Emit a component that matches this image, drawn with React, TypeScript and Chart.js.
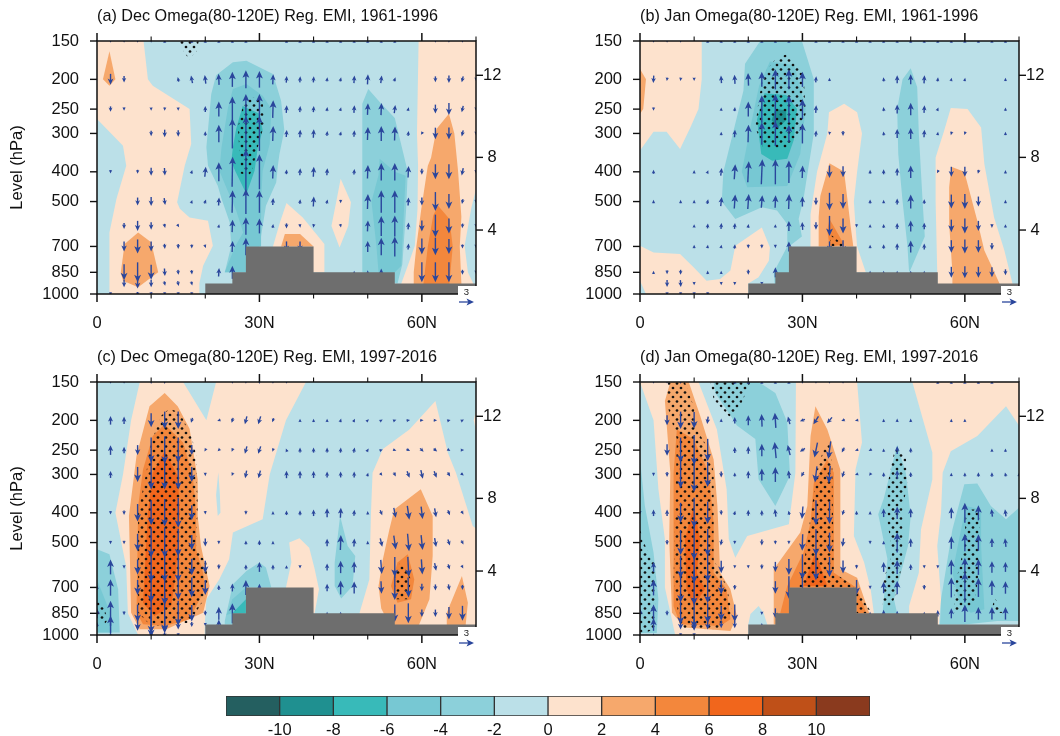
import React, { useEffect, useRef } from "react";
import { Chart, registerables } from "chart.js";

Chart.register(...registerables);

type Pt = [number, number];
type Vec = [number, number, number?];

// ---- axes ----
const pressureLevels = [150, 200, 250, 300, 400, 500, 700, 850, 1000];
const heightLabels = ["4", "8", "12"];
const heightPressures = [619, 359, 194];
const latMajor = [0, 30, 60];
const latMinor = [10, 20, 40, 50, 70];
const latNames = ["0", "30N", "60N"];
const colorLevels = [-10, -8, -6, -4, -2, 0, 2, 4, 6, 8, 10];
const binLower = [-12, -10, -8, -6, -4, -2, 0, 2, 4, 6, 8, 10];
const binColors = ["#245f60", "#1f9090", "#38bab9", "#77c8d3", "#8cd0da", "#bbe0e8", "#fde2cd", "#f6a86c", "#f3873c", "#f1661c", "#bf5018", "#8a3a1e"];
const refVector = 3;

const domain: Pt[] = [[0, 150], [70, 150], [70, 1000], [0, 1000]];
const terrain: Pt[] = [[20, 1000], [20, 925], [25, 925], [25, 850], [27.5, 850], [27.5, 700], [40, 700], [40, 850], [55, 850], [55, 925], [70, 925], [70, 1000]];

// ---- panel (a) ----
const contoursA: [number, Pt[]][] = [
  [0, [[0, 150], [8.6, 150], [9.4, 200], [10.3, 210], [17.1, 250], [17.4, 325], [16.2, 382], [14.8, 503], [15.3, 528], [17.1, 563], [20.5, 577], [21.4, 696], [19.6, 809], [18.9, 925], [18.9, 1000], [2.3, 1000], [2.3, 809], [2.3, 630], [3.6, 490], [5.4, 382], [4.8, 329], [0, 269]]],
  [2, [[2.3, 162], [3.4, 200], [2.3, 210], [1.1, 200]]],
  [2, [[7.6, 630], [10, 679], [11.3, 850], [7.6, 951], [4.8, 905], [4.4, 850], [5.1, 687]]],
  [0, [[59.4, 150], [70, 150], [70, 455], [69.1, 528], [67.9, 696], [68.5, 850], [69.5, 925], [69.5, 1000], [56.2, 1000], [56.2, 925], [57.4, 809], [58.7, 696], [59.2, 528], [59.3, 382], [59.1, 300]]],
  [2, [[65, 259], [66, 300], [66.7, 400], [67.3, 560], [67, 700], [67.3, 925], [67.3, 1000], [58.5, 1000], [58.5, 850], [59, 696], [59.9, 528], [61.1, 382], [61.7, 360], [62.7, 290]]],
  [4, [[63, 516], [65.1, 570], [65.7, 700], [65.1, 925], [65.1, 1000], [60.3, 1000], [60.3, 925], [61.1, 700], [62.1, 555]]],
  [0, [[45, 421], [46.9, 503], [46.4, 600], [44.8, 705], [43.3, 600], [44.3, 490]]],
  [0, [[32.5, 700], [33.8, 584], [35, 505], [38, 563], [42, 687], [42, 850], [40, 850], [32.5, 850]]],
  [2, [[34, 700], [34.7, 638], [37.5, 638], [40, 700]]],
  [-4, [[25.1, 176], [27.6, 174], [32.5, 192], [34, 235], [34.6, 293], [33.7, 350], [33.4, 382], [33.1, 433], [31.2, 516], [30.6, 600], [30, 700], [30, 850], [27.5, 850], [23.6, 850], [24.8, 696], [24.5, 584], [23, 490], [22.3, 444], [20.5, 382], [20.2, 333], [21.1, 223], [22, 194]]],
  [-6, [[27.6, 207], [30.6, 226], [32.2, 250], [31.9, 325], [30.6, 397], [30.3, 500], [30.3, 700], [27.5, 700], [27.5, 850], [23.6, 850], [25.5, 700], [27, 630], [25.7, 535], [24, 455], [22.6, 397], [23, 333], [24.2, 247], [25.1, 215]]],
  [-8, [[26.9, 244], [30, 259], [30.6, 293], [29.7, 333], [29.1, 397], [27.6, 472], [25.5, 397], [24.8, 370], [25.1, 333], [25.7, 290]]],
  [-4, [[50.1, 215], [52.5, 240], [55, 267], [57.4, 400], [57.1, 528], [56.4, 800], [55.5, 925], [49, 850], [49, 400], [49, 240]]],
  [-6, [[52.2, 363], [55, 400], [57, 412], [56.8, 490], [56.2, 809], [55, 850], [52, 850], [51.6, 696], [50.7, 500], [52, 410]]],
];
const stippleA: Pt[][] = [
  [[15, 150], [18.8, 150], [18.4, 162], [17, 172], [16, 162]],
  [[27.6, 228], [30.6, 232], [30.9, 279], [29.7, 333], [28.8, 387], [28.2, 410], [26.5, 405], [26.5, 370], [26.2, 320], [26, 287], [26.9, 247]],
];
const windA: Record<number, Vec[]> = {
  150: [[2.5, -.6], [5, -.5], [7.5, -.4], [10, -.4], [12.5, .5], [17.5, .5], [20, .5], [22.5, .5], [25, .5], [27.5, .5], [35, .5], [37.5, .5], [40, .5], [42.5, .5], [45, .5], [47.5, .5], [50, .6], [52.5, .5], [55, .4], [62.5, -.5], [65, -.5], [67.5, -.4]],
  200: [[2.5, -2.2], [5, -1.3], [15, .9, -.2], [17.5, 1.5, -.3], [20, 1.7, -.2], [22.5, 2.2, -.1], [25, 3], [27.5, 3.6], [30, 3.3], [32.5, 2, .1], [35, 1.3, .1], [37.5, 1.2, .1], [40, 1.2, .1], [42.5, .8, .1], [45, .8, .2], [47.5, 1.5, .1], [50, 2, .1], [52.5, 1.5, .2], [55, .8, .3], [62.5, -1.2], [65, -1.5], [67.5, -1.2, -.3], [70, -.5]],
  250: [[2.5, -1.1], [5, -.7], [10, -.4], [12.5, -.7], [15, -.6], [20, 1.2], [22.5, 3], [25, 5], [27.5, 6], [30, 6], [32.5, 3.5, .1], [35, 1.5, .1], [37.5, 1.2, .1], [40, 1.2, .1], [42.5, .8, .1], [45, .7, .2], [47.5, 1.5, .1], [50, 2.3, .1], [52.5, 2.4, .1], [55, 1.6, .2], [57.5, .7, .2], [62.5, -1.8], [65, -2.4], [67.5, -1.3, -.3], [70, -.3]],
  300: [[10, -1.1], [12.5, -1.5], [15, -1.3], [20, .9], [22.5, 3.5], [25, 6], [27.5, 7], [30, 7], [32.5, 3, .1], [35, 1.4, .1], [37.5, 1.5, .1], [40, 1.7, .1], [42.5, 1, .1], [45, .8, .2], [47.5, 1.3, .1], [50, 2.6, .1], [52.5, 3], [55, 2.8, .1], [57.5, 1, .1], [60, -.3, -.2], [62.5, -2.3], [65, -2.4], [67.5, -1.2, -.3], [70, -.3]],
  400: [[2.5, -.5], [7.5, -.8], [10, -1.6], [12.5, -1.5, .1], [17.5, .7, .2], [20, 2, .2], [22.5, 3.8], [25, 6, .1], [27.5, 9], [30, 7], [32.5, 2.7, .1], [35, .9, .1], [37.5, 1.4, .1], [40, 2, .1], [42.5, 1.4, .1], [47.5, 1.1, .1], [50, 2.7, .1], [52.5, 3.5], [55, 3.5], [57.5, 2.3, .1], [60, -1.2], [62.5, -3], [65, -3], [67.5, -1.5, -.3], [70, -.4]],
  500: [[7.5, -1.6], [10, -1.8], [12.5, -1.4, .2], [17.5, .6, .2], [20, .8, .3], [22.5, 1.6, .1], [25, 4.5, .1], [27.5, 5], [30, 4.5], [32.5, 1.4, .1], [37.5, .9, .1], [40, 2, .1], [42.5, .8, .2], [45, -.5], [50, 3, .1], [52.5, 4.5], [55, 4.5], [57.5, 1.6, .1], [60, -1.6], [62.5, -3.8], [65, -3], [67.5, -1, -.2], [70, -.4]],
  600: [[5, -1.2], [7.5, -2], [10, -1.5], [12.5, -.8, .2], [15, -.5, .3], [22.5, .5, .1], [25, 2.5, .1], [27.5, 3.5], [30, 3], [32.5, .8, .1], [35, -1], [37.5, -.7, .1], [40, -.7, -.1], [45, -.5, .1], [50, 2.2, .1], [52.5, 4], [55, 4.2], [57.5, 1.4, .1], [60, -2.2], [62.5, -4.5], [65, -3], [67.5, -.9, -.1], [70, -.4]],
  700: [[5, -2], [7.5, -2.8], [10, -2], [12.5, -1, .1], [15, -1], [17.5, -.8], [20, -.5, .2], [25, 2.2, .1], [27.5, 3.5], [35, -2], [37.5, -2], [50, 2.2], [52.5, 3.5], [55, 4], [57.5, 1.2, .1], [60, -3.2], [62.5, -3.5], [65, -3], [67.5, -.8], [70, -.3]],
  850: [[5, -3.2], [7.5, -4], [10, -3], [12.5, -1.5, .1], [15, -1, .1], [17.5, -.9, .1], [22.5, 1.7, .1], [25, 2.6], [47.5, .4], [50, .8], [52.5, 1.5], [60, -4], [62.5, -4], [65, -4], [67.5, -1], [70, -.5]],
  925: [[5, -1.5], [7.5, -2], [10, -1.5], [12.5, -.9, .2], [15, -1, .2], [17.5, -.8, .2]],
  1000: [[2.5, -.5], [7.5, -.8], [10, -.8], [12.5, -.6], [15, -.5], [17.5, -.4]],
};

// ---- panel (b) ----
const contoursB: [number, Pt[]][] = [
  [0, [[0, 150], [11.4, 150], [11.4, 200], [10.8, 250], [9.3, 287], [7.4, 337], [4.9, 296], [2.5, 296], [0, 341]]],
  [2, [[0, 185], [1.1, 200], [.6, 250], [0, 259]]],
  [0, [[0, 696], [2.5, 732], [7.4, 741], [9.9, 819], [12.3, 905], [14.8, 894], [16.7, 839], [17.6, 696], [22.5, 607], [24, 705], [23.8, 779], [21.9, 882], [20, 925], [20, 1000], [1.1, 1000], [0, 905]]],
  [0, [[34.9, 256], [37.7, 240], [40.1, 256], [41, 300], [40.1, 400], [39.5, 500], [39.8, 600], [40.1, 700], [41.7, 850], [30, 850], [31.5, 700], [31.5, 550], [32.7, 400], [34.6, 300]]],
  [2, [[35, 375], [37.7, 400], [38.9, 600], [39.4, 700], [33, 700], [33, 560], [33.3, 480]]],
  [4, [[35, 570], [37.7, 690], [35, 700], [34.6, 620]]],
  [0, [[57.4, 248], [60.5, 250], [63, 287], [63.6, 377], [65.4, 563], [67.3, 722], [68.8, 925], [68.8, 1000], [54.9, 1000], [54.9, 850], [54.6, 500], [54.6, 359], [56.2, 293]]],
  [2, [[57.5, 385], [59.9, 400], [62.3, 577], [63.6, 722], [66.4, 925], [66.4, 1000], [57.7, 1000], [57.7, 850], [57.1, 592], [57.1, 449]]],
  [-4, [[22.2, 150], [29.9, 150], [32.1, 200], [32.1, 300], [30.2, 490], [29.3, 570], [29.9, 650], [27.5, 700], [27.5, 1000], [25, 1000], [24.7, 850], [27.2, 700], [27.2, 592], [25.3, 535], [22.5, 522], [17.6, 570], [15.1, 500], [15.4, 400], [17.3, 293], [19.1, 218], [19.4, 178]]],
  [-6, [[24, 175], [28.5, 180], [30.6, 250], [29.6, 350], [27.2, 445], [19.8, 449], [18.8, 400], [20.5, 280], [22, 210]]],
  [-8, [[23, 222], [27, 225], [29, 250], [28.4, 315], [27.2, 363], [24.4, 368], [22.4, 350], [21.6, 270]]],
  [-10, [[25, 250], [27, 252], [27, 272], [25.5, 287], [24.3, 272]]],
  [-4, [[50, 184], [51.2, 212], [51.5, 300], [52.2, 500], [52.6, 650], [50, 830], [49.7, 850], [49.4, 700], [48.5, 500], [47.7, 350], [47.5, 250], [48.5, 200]]],
];
const stippleB: Pt[][] = [
  [[27.2, 165], [30.2, 190], [30.6, 259], [29.9, 287], [28.7, 316], [27.2, 337], [22.8, 337], [21.3, 287], [21.9, 235], [22.8, 192], [25, 172]],
  [[35.2, 640], [37.5, 690], [37.5, 700], [35, 700]],
];
const windB: Record<number, Vec[]> = {
  150: [[2.5, -.5], [5, -.4], [7.5, -.4], [12.5, .4], [15, .5], [17.5, .5], [20, .5], [22.5, .5], [25, .5], [27.5, .5], [32.5, .4], [35, .4], [37.5, .4], [40, .4], [42.5, .3], [45, .4], [47.5, .4], [50, .5], [52.5, .4], [55, .4], [57.5, .3], [60, .3], [62.5, .3], [65, .3], [67.5, .3]],
  200: [[2.5, -1.5, -.1], [5, -.7, -.1], [7.5, -.7, -.1], [10, -.5], [15, 1.5, -.1], [17.5, 1.8, -.1], [20, 2.5, -.1], [22.5, 3], [25, 4], [27.5, 4], [30, 3], [32.5, 1.2, .1], [35, .5], [45, .8, -.1], [47.5, 1.6], [50, 2], [52.5, 1.6, .1], [55, .8, .1], [57.5, .5, .1], [60, .5, .1], [67.5, .5]],
  250: [[2.5, -.6], [15, .5], [17.5, .8, .1], [20, 3], [22.5, 5.5], [25, 6], [27.5, 5.5], [30, 4], [32.5, 1.5, .1], [45, .8, -.1], [47.5, 1.8], [50, 2.5], [52.5, 1.5, .1], [55, .5, .2], [67.5, .4]],
  300: [[15, .5], [17.5, 1.5, .1], [20, 3.5, .1], [22.5, 4.5], [25, 5], [27.5, 3.5], [30, 4], [32.5, 1.2, .1], [35, -.6, -.1], [37.5, -1], [45, .8, -.1], [47.5, 1.8], [50, 2.2], [52.5, 1.5, .1], [55, .6, .1], [57.5, -.7, -.2], [60, -.6, -.2], [67.5, .4]],
  400: [[2.5, .8], [10, .4], [12.5, .5, .2], [15, 1.5, .2], [17.5, 3, .2], [20, 4.2, .2], [22.5, 5, .2], [25, 5], [27.5, 4.5], [30, 2.5, .1], [35, -2.5], [37.5, -2.2], [42.5, .8], [45, 1], [47.5, 1.5], [50, 2.5], [55, -.4, -.2], [57.5, -2], [60, -2], [62.5, -.8, -.2], [67.5, .5]],
  500: [[2.5, .5], [7.5, .3], [10, .5], [12.5, .9, .2], [15, 1.8, .2], [17.5, 2.8, .2], [20, 3, .2], [22.5, 2.5, .2], [25, 2.5, .1], [27.5, 3, .1], [30, 2], [32.5, -1.5], [35, -3.5], [37.5, -3], [42.5, .8], [45, .6], [47.5, 1.2], [50, 2.8], [52.5, .9], [57.5, -2.8], [60, -3], [62.5, -2], [67.5, .4]],
  600: [[10, .6], [12.5, 1, .1], [15, 1.2, .1], [17.5, 1.2, .1], [20, .8, .1], [25, .4], [27.5, 2], [30, 1.6, -.1], [32.5, -1.5], [35, -4], [37.5, -3], [40, -.4], [42.5, .6], [45, .8], [47.5, 1.2], [50, 2.2], [52.5, 1.3], [57.5, -2.5], [60, -3], [62.5, -2], [65, -.8], [67.5, .6]],
  700: [[10, .6], [12.5, .6, .1], [15, .7, .1], [17.5, .9, .1], [20, -.8], [22.5, -.8], [25, -.4], [27.5, 2], [35, -2], [37.5, -2.5], [42.5, .5], [45, .9], [47.5, 1.3], [50, 2.4], [52.5, 1.2], [57.5, -2.5], [60, -2.8], [62.5, -2.5], [65, -1.4]],
  850: [[2.5, .6], [5, -.8], [7.5, -1], [12.5, .7], [15, .6], [20, -1], [25, 2], [42.5, .5], [45, .6], [47.5, .6], [50, .6], [52.5, .5], [57.5, -2.2], [60, -2.4], [62.5, -2.2], [65, -2], [67.5, -1.2]],
  925: [[5, -1.4], [7.5, -1.4, .1], [10, -.5], [15, -.4], [17.5, -.6], [22.5, -.4]],
  1000: [[5, -.4], [7.5, -.4], [10, -.3], [12.5, -.3]],
};

// ---- panel (c) ----
const contoursC: [number, Pt[]][] = [
  [0, [[7.9, 150], [15.9, 150], [20.2, 200], [22, 150], [38.6, 150], [34.9, 200], [31.9, 300], [30.6, 420], [25.1, 464], [24.4, 567], [22.6, 658], [20.2, 765], [19.9, 925], [19.9, 1000], [7.6, 1000], [5.7, 850], [5.4, 600], [3.4, 400], [4.8, 300], [6.3, 200]]],
  [-2, [[22.4, 295], [22.7, 350], [22.8, 400], [22.3, 410], [22, 350]]],
  [2, [[12.5, 163], [14.9, 180], [17.1, 213], [18.6, 311], [18.6, 410], [19.2, 513], [20.8, 692], [19.6, 846], [12.8, 958], [7.9, 958], [6.3, 846], [5.9, 410], [7.3, 261], [9.7, 180]]],
  [4, [[12.5, 206], [15.9, 236], [17.7, 303], [18.3, 400], [18.3, 526], [19.6, 627], [19.9, 710], [17.1, 889], [12.5, 935], [8.5, 923], [7.3, 846], [7.6, 380], [8.5, 289], [10.3, 225]]],
  [6, [[12.5, 252], [14.9, 303], [15.3, 400], [14.6, 627], [13.7, 804], [10.6, 867], [8.5, 785], [9.4, 400], [10.3, 296]]],
  [0, [[62.5, 173], [64.8, 255], [66.3, 296], [69.4, 442], [70, 450], [70, 1000], [48.5, 1000], [48.5, 846], [50.3, 659], [50.6, 400], [50.9, 296], [52.8, 248], [57.7, 214]]],
  [0, [[69.6, 200], [70, 185], [70, 218]]],
  [0, [[35.5, 500], [37.4, 484], [39.2, 520], [40.2, 610], [41, 710], [40.2, 850], [34.9, 850], [34.9, 700], [35.9, 580]]],
  [2, [[59.8, 335], [62, 410], [62, 552], [61.4, 765], [59.5, 925], [59.5, 1000], [55, 1000], [52.5, 820], [52, 692], [52.8, 567], [54, 453], [54.9, 390]]],
  [4, [[57.4, 546], [58.6, 659], [58, 765], [55.5, 785], [54.3, 692], [55.5, 581]]],
  [2, [[67.4, 642], [68.5, 785], [68.1, 925], [68.1, 1000], [64.6, 1000], [64.6, 846]]],
  [-4, [[0, 526], [2.3, 546], [3.9, 710], [4.2, 982], [0, 982]]],
  [-6, [[0, 660], [2.6, 860], [2.8, 982], [0, 982]]],
  [-4, [[23.6, 900], [25.1, 684], [27.6, 619], [30, 581], [31.2, 603], [32.2, 701], [27.5, 701], [27.5, 925], [23.6, 925]]],
  [-6, [[23.9, 860], [25, 765], [27.5, 700], [27.5, 780], [25, 850]]],
  [-8, [[25, 850], [27.5, 765], [27.5, 850]]],
  [-4, [[44.9, 410], [46.3, 513], [47.7, 553], [47.2, 692], [45.1, 761], [43.9, 692], [43.9, 581]]],
];
const stippleC: Pt[][] = [
  [[13.4, 183], [15.3, 189], [17.4, 225], [18.3, 255], [18.6, 380], [18.3, 526], [20.2, 581], [20.5, 728], [17.1, 912], [10, 935], [7.6, 846], [7.6, 400], [9.1, 296], [10, 236], [11.9, 193]],
  [[0, 755], [1, 790], [2, 890], [1.4, 925], [0, 865]],
  [[56.2, 574], [58, 659], [57.4, 765], [55.2, 765], [54.9, 627]],
];
const windC: Record<number, Vec[]> = {
  150: [[2.5, -.4], [5, -.3], [10, -.8], [12.5, -.8], [25, -.5], [27.5, -.5], [30, -.8], [32.5, -.6], [35, -.5]],
  200: [[2.5, 1.7], [5, 1.5], [10, -2.8], [12.5, -3.5], [15, -3.5], [17.5, -1, -.3], [22.5, -.2, -.5], [25, -1, -.3], [27.5, -1.6, -.4], [30, -1.6, -.5], [32.5, -.8, -.3], [37.5, .4], [40, .5], [42.5, .6], [45, .7, .2], [47.5, .6, .3], [50, .4, .4], [52.5, .3, .5], [55, .2, .6], [57.5, .1, .7], [60, 0, .7], [62.5, 0, .6], [65, .1, .4], [67.5, .2, .4]],
  250: [[2.5, 1.9], [5, 1.3], [7.5, -2], [10, -5], [12.5, -5.5], [15, -5], [17.5, -2], [20, -.5, -.3], [22.5, -.4, -.4], [25, -.7, -.3], [27.5, -1.5, -.4], [30, -1.5, -.5], [32.5, -.6, -.2], [35, .5, -.2], [37.5, 1], [40, 1], [42.5, 1], [45, 1, .1], [47.5, 1, .2], [50, .6, .4], [52.5, .2, .6], [55, -.2, .6], [57.5, -.4, .7], [60, -.7, .7], [62.5, -.6, .7], [65, -.3, .5], [67.5, 0, .5]],
  300: [[2.5, 1.4], [7.5, -3], [10, -6], [12.5, -6], [15, -6], [17.5, -3], [20, -.6], [25, -.5, -.2], [27.5, -1.5, -.3], [30, -1.5, -.4], [35, 1.5], [37.5, 1.5], [40, 1.4], [42.5, 1.2], [45, 1.2], [47.5, 1.2], [50, .7, .2], [52.5, -.4, .3], [55, -.8, .4], [57.5, -1.3, .5], [60, -1.7, .4], [62.5, -1.3, .5], [65, -.8, .5], [67.5, -.3, .4]],
  400: [[2.5, -.3], [5, -.9], [7.5, -3.5], [10, -5], [12.5, -5.5], [15, -6], [17.5, -3], [20, -.5], [27.5, -.8], [32.5, .6], [35, .9], [37.5, 1], [40, 1.3], [42.5, 1.8], [45, 2, .1], [47.5, 1.2, .1], [50, .5], [52.5, -1, .4], [55, -2, .4], [57.5, -2.8, .4], [60, -2.5, .3], [62.5, -1.8, .3], [65, -1, .4], [67.5, -.7, .4]],
  500: [[2.5, -.5], [5, -.5], [7.5, -3.5], [10, -6], [12.5, -6], [15, -5.5], [17.5, -3], [20, -1.6], [22.5, -.6], [27.5, .8], [30, 1], [32.5, .7], [42.5, 1.5], [45, 3, .1], [47.5, 1.6, .1], [50, .6], [52.5, -1.7, .4], [55, -2.8, .4], [57.5, -3.5, .3], [60, -3, .3], [62.5, -1.8, .3], [65, -1.2, .4], [67.5, -.8, .4]],
  600: [[2.5, 3], [5, -.7], [7.5, -3], [10, -6], [12.5, -6], [15, -6], [17.5, -3.3], [20, -2.5], [22.5, -1], [27.5, 1], [30, 2], [32.5, 1], [35, .4], [37.5, -.4], [42.5, 1.4], [45, 2.5], [47.5, 2.2], [52.5, -2.8, .2], [55, -4], [57.5, -4, .2], [60, -3, .2], [62.5, -1.5, .3], [65, -1, .3], [67.5, -.6, .3]],
  700: [[0, 1], [2.5, 3.3], [7.5, -3], [10, -6], [12.5, -7], [15, -5], [17.5, -4], [20, -3], [22.5, 1], [25, 1.6], [27.5, 3], [30, 1.5], [42.5, 1.5], [45, 2.8], [47.5, 2.4], [52.5, -2.5, .1], [55, -5], [57.5, -4, .1], [60, -1.5], [62.5, -1.2], [65, -1.2, .2], [67.5, -1]],
  850: [[0, 2], [2.5, 5], [5, -.8], [7.5, -3.5], [10, -8], [12.5, -8], [15, -5], [17.5, -3.3], [20, -1], [22.5, 2.6], [25, 4], [42.5, .5], [45, .3], [55, -3.5], [57.5, -4], [60, -1.5], [62.5, -1.5], [65, -2.5], [67.5, -3]],
  925: [[0, 1], [2.5, 3.5], [7.5, -2.5], [10, -5], [12.5, -3], [15, -2], [17.5, -1], [20, -.5], [22.5, 2]],
  1000: [[2.5, 1], [10, -1], [12.5, -1], [15, -.5]],
};

// ---- panel (d) ----
const contoursD: [number, Pt[]][] = [
  [0, [[0, 150], [10.8, 150], [14.2, 214], [16, 335], [16.4, 488], [17.6, 560], [19.8, 476], [27.5, 436], [28.7, 296], [28.8, 150], [40.1, 150], [41, 236], [39.8, 289], [39.5, 476], [41.4, 581], [42.6, 710], [43.2, 850], [43.2, 1000], [6.5, 1000], [4.6, 700], [4.6, 488], [3.4, 335], [2.5, 200]]],
  [-2, [[20, 925], [20.4, 855], [21.9, 805], [22.8, 846], [23.5, 925], [23.5, 1000], [20, 1000]]],
  [0, [[50.3, 150], [70, 150], [70, 208], [67.6, 180], [62.3, 225], [57.4, 252], [55.9, 296], [55.6, 400], [54.9, 513], [55.6, 765], [55.2, 925], [55.2, 1000], [49.7, 1000], [49.7, 804], [51.5, 627], [51.9, 453], [54, 311], [54, 255]]],
  [2, [[5.6, 150], [9, 150], [11.1, 193], [13.6, 268], [14.3, 380], [14.8, 627], [16.7, 710], [17.9, 867], [16.7, 970], [8.3, 946], [5.9, 846], [5.4, 488], [5.6, 296], [4.6, 173]]],
  [4, [[6.8, 214], [9.9, 230], [12.7, 296], [13.6, 430], [13.6, 627], [16, 710], [16.7, 889], [14.8, 935], [7.4, 923], [6.2, 804], [6.2, 296]]],
  [6, [[9.9, 380], [11.1, 488], [10.5, 627], [12, 710], [9.9, 804], [8.6, 710], [8.3, 488]]],
  [2, [[32.4, 180], [34.6, 214], [37, 289], [37, 611], [40.1, 651], [42.3, 846], [42.3, 925], [24.7, 925], [24.7, 611], [29.6, 464], [30.9, 380], [31.5, 225]]],
  [4, [[34.6, 268], [35.8, 296], [35.8, 627], [37.7, 659], [39.5, 692], [40, 700], [27.5, 700], [27.5, 850], [25.9, 850], [27.2, 692], [30.2, 539], [31.5, 430], [32.1, 319]]],
  [4, [[40, 700], [41, 780], [41.8, 850], [40, 850]]],
  [6, [[32.4, 539], [34.6, 692], [30.2, 692]]],
  [-4, [[13.6, 150], [21.9, 150], [25, 163], [27.2, 203], [27.7, 303], [25, 380], [21.9, 311], [21.3, 230], [17.9, 208], [16.7, 193], [13.9, 163]]],
  [-4, [[0, 268], [.9, 380], [2.5, 539], [3.4, 765], [3.1, 985], [0, 985]]],
  [-4, [[47.5, 240], [49.1, 296], [50, 410], [49.5, 513], [46.9, 765], [47.5, 850], [44.8, 850], [45.7, 566], [44, 404], [45, 361]]],
  [-4, [[59.9, 323], [62.3, 321], [64.8, 380], [67.6, 420], [70, 385], [70, 900], [66, 900], [60, 925], [55.4, 925], [55.6, 765], [57.7, 453]]],
  [-6, [[60.2, 380], [63, 390], [63, 513], [63.6, 825], [61.1, 846], [59, 785], [57.7, 627], [59.3, 453]]],
];
const stippleD: Pt[][] = [
  [[5.2, 150], [8.3, 150], [9.9, 180], [10.5, 214], [12.7, 249], [13.6, 296], [13.6, 567], [16, 692], [17, 846], [14.8, 958], [7.4, 958], [6.2, 659], [6.8, 230], [4.9, 175]],
  [[13, 150], [20.4, 150], [18.8, 175], [16.7, 196], [13.6, 171]],
  [[34.9, 233], [35.5, 275], [35.8, 627], [39.5, 692], [42.5, 830], [42.5, 850], [40, 850], [39.5, 700], [29.3, 700], [30.2, 596], [31.8, 380], [32.7, 289], [34.2, 240]],
  [[47.4, 239], [49.1, 261], [49.4, 327], [48.5, 380], [48.5, 567], [47.5, 727], [46.3, 804], [44.8, 804], [45, 659], [46.6, 539], [45.7, 430], [45.7, 327], [46.6, 268]],
  [[0, 453], [1.2, 526], [2.8, 581], [2.8, 950], [1, 985], [0, 985]],
  [[60.2, 390], [62.7, 390], [62.7, 464], [62.4, 659], [61.7, 804], [58, 846], [58, 710], [59.9, 513]],
  [[65.5, 756], [67.3, 846], [65, 850], [64.8, 846]],
];
const windD: Record<number, Vec[]> = {
  150: [[2.5, -.4], [5, -.4], [7.5, -.8], [17.5, .8], [20, .5], [22.5, .4], [25, .4], [27.5, .4], [30, -.4], [32.5, -.4], [35, -.4], [37.5, -.3], [55, .3], [57.5, .3], [60, .3], [62.5, .3], [65, .3]],
  200: [[5, -2], [7.5, -3.5], [10, -3.3], [12.5, -1.5, -.2], [15, .7], [17.5, 1.3], [20, 2], [22.5, 2.5, -.1], [25, 3, -.2], [27.5, 1.5, -.4], [30, -.4, -1], [32.5, -1.6, -1], [35, -1.2, -1], [37.5, -.3, -.7], [40, -.1, -.5], [45, .4], [47.5, .7], [50, .7], [57.5, .3], [60, .3]],
  250: [[5, -2.3], [7.5, -5], [10, -6], [12.5, -4.5], [17.5, 1.2], [20, 1.5], [22.5, 2.5], [25, 3.2, -.3], [27.5, 2, -.5], [30, -.7, -1], [32.5, -3, -.6], [35, -3.5, -.5], [37.5, -1, -.5], [40, -.2, -.6], [42.5, -.2, -.4], [45, .5], [47.5, 1.6], [50, 1], [65, .3], [67.5, .3]],
  300: [[2.5, -.5], [5, -1], [7.5, -5.5], [10, -7], [12.5, -5], [15, -1.2], [17.5, .8], [20, 1.5], [22.5, 2.4], [25, 3], [27.5, 1.6, -.2], [30, -.9, -.5], [32.5, -3.2, -.4], [35, -3.5, -.3], [37.5, -1.2, -.4], [40, -.2, -.5], [42.5, -.4, -.3], [45, .9], [47.5, 1.8], [50, 1], [57.5, .3], [60, .8], [62.5, .9], [65, .9], [67.5, .8, -.2], [70, .4]],
  400: [[0, -.5], [2.5, 1.3], [5, 1.3], [7.5, -4], [10, -6], [12.5, -4.5], [15, -1], [17.5, .8, .2], [20, 1.2], [22.5, 1.1], [25, 1.5, -.2], [27.5, .8, -.2], [30, -2.5, -.2], [32.5, -5], [35, -4.5], [37.5, -1, -.3], [40, .8], [42.5, .7], [45, 1.7], [47.5, 2.5], [50, 1.8], [57.5, 2.2], [60, 4], [62.5, 3], [65, 1.5, -.2], [67.5, 1.4, -.2]],
  500: [[5, -1], [7.5, -5], [10, -7], [12.5, -5.5], [15, -1.2, -.2], [17.5, -.6], [22.5, -1.2], [25, -.8], [27.5, -.4], [30, -3.3, -.1], [32.5, -5.3], [35, -4], [37.5, -1.7, -.2], [42.5, -.6], [45, .7], [47.5, 4], [50, 1.7], [57.5, 2.5], [60, 3.5], [62.5, 3.3], [65, 1.8], [67.5, 1.7, -.2]],
  600: [[2.5, 2], [7.5, -4.5], [10, -6.5], [12.5, -6], [15, -2.5], [17.5, -.6], [20, -.6], [22.5, -1], [25, -2], [27.5, -3.2], [30, -5], [32.5, -5.3], [35, -4], [37.5, -2.6], [40, -.8], [45, 2], [47.5, 2.8], [50, 1.2], [52.5, -.5], [55, -.5], [57.5, 3], [60, 3.7], [62.5, 3.2], [65, 2.3], [67.5, 2]],
  700: [[2.5, 3.2], [7.5, -6], [10, -7], [12.5, -6.3], [15, -2.8], [17.5, -1], [25, -2.5], [27.5, -4.5], [30, -4], [40, -3], [42.5, -.6], [45, 2.3], [47.5, 2.7], [52.5, -1], [57.5, 4], [60, 6], [62.5, 3.8], [65, 3], [67.5, 2.5]],
  850: [[0, 2], [2.5, 3.5], [5, -1], [7.5, -4.5], [10, -6], [12.5, -4], [15, -3], [17.5, -3.5], [22.5, -.6], [25, -2], [42.5, .4], [45, 1.4], [47.5, 1], [52.5, .4], [55, 1.3], [57.5, 2], [60, 3.5], [62.5, 2.5], [65, 2.5], [67.5, 2.5]],
  925: [[2.5, 2.5], [7.5, -2], [10, -2.5], [12.5, -2], [15, -1.5], [17.5, -1.5], [22.5, .5]],
  1000: [[2.5, .5], [7.5, -.5], [10, -.5]],
};

const titles = [
  "(a) Dec Omega(80-120E) Reg. EMI, 1961-1996",
  "(b) Jan Omega(80-120E) Reg. EMI, 1961-1996",
  "(c) Dec Omega(80-120E) Reg. EMI, 1997-2016",
  "(d) Jan Omega(80-120E) Reg. EMI, 1997-2016",
];

const FONT = "'Liberation Sans', Arial, sans-serif";
const INK = "#111";
const ARROW = "#2a469c";
const binColor = (b: number) => binColors[binLower.indexOf(b)];

function makeStipple(ctx: CanvasRenderingContext2D) {
  const c = document.createElement("canvas");
  c.width = 16;
  c.height = 18;
  const g = c.getContext("2d")!;
  g.fillStyle = "#111";
  const spots = [[2, 2], [10, 2], [6, 6.5], [14, 6.5], [2, 11], [10, 11], [6, 15.5], [14, 15.5]];
  for (const [x, y] of spots) {
    g.beginPath();
    g.arc(x, y, 1.35, 0, Math.PI * 2);
    g.fill();
  }
  return ctx.createPattern(c, "repeat")!;
}

function drawArrow(ctx: CanvasRenderingContext2D, x0: number, y0: number, x1: number, y1: number) {
  const len = Math.hypot(x1 - x0, y1 - y0);
  if (len < 0.5) return;
  const ux = (x1 - x0) / len;
  const uy = (y1 - y0) / len;
  const head = Math.min(7.5, 2.4 + len * 0.35);
  const half = head * 0.46;
  ctx.beginPath();
  ctx.moveTo(x0, y0);
  ctx.lineTo(x1 - ux * head * 0.6, y1 - uy * head * 0.6);
  ctx.stroke();
  ctx.beginPath();
  ctx.moveTo(x1, y1);
  ctx.lineTo(x1 - ux * head - uy * half, y1 - uy * head + ux * half);
  ctx.lineTo(x1 - ux * head * 0.75, y1 - uy * head * 0.75);
  ctx.lineTo(x1 - ux * head + uy * half, y1 - uy * head - ux * half);
  ctx.closePath();
  ctx.fill();
}

const PX_PER_UNIT = 5;
const MIN_GLYPH = 3.4;

const marksPlugin = {
  id: "marks",
  beforeDatasetDraw(chart: any, args: any) {
    const ds = chart.data.datasets[args.index];
    const pts = args.meta.data;
    const { ctx, chartArea: a } = chart;
    ctx.save();
    ctx.beginPath();
    ctx.rect(a.left, a.top, a.right - a.left, a.bottom - a.top);
    ctx.clip();
    if (ds.markKind === "polygon") {
      ctx.beginPath();
      pts.forEach((p: any, i: number) => (i ? ctx.lineTo(p.x, p.y) : ctx.moveTo(p.x, p.y)));
      ctx.closePath();
      ctx.fillStyle = ds.backgroundColor;
      ctx.fill();
    } else if (ds.markKind === "arrows") {
      ctx.strokeStyle = ARROW;
      ctx.fillStyle = ARROW;
      ctx.lineWidth = 1.4;
      pts.forEach((p: any, i: number) => {
        const v = ds.data[i];
        const mag = Math.hypot(v.u, v.w) * PX_PER_UNIT;
        const k = mag < MIN_GLYPH ? MIN_GLYPH / mag : 1;
        const dx = (v.u * PX_PER_UNIT * k) / 2;
        const dy = (v.w * PX_PER_UNIT * k) / 2;
        drawArrow(ctx, p.x - dx, p.y + dy, p.x + dx, p.y - dy);
      });
    }
    ctx.restore();
  },
  afterDraw(chart: any) {
    const { ctx, chartArea: a, scales } = chart;
    ctx.save();
    ctx.strokeStyle = INK;
    ctx.lineWidth = 1.5;
    ctx.strokeRect(a.left, a.top, a.right - a.left, a.bottom - a.top);
    const tick = (x0: number, y0: number, x1: number, y1: number) => {
      ctx.beginPath();
      ctx.moveTo(x0, y0);
      ctx.lineTo(x1, y1);
      ctx.stroke();
    };
    latMajor.forEach((v) => {
      const x = scales.x.getPixelForValue(v);
      tick(x, a.top, x, a.top - 8);
      tick(x, a.bottom, x, a.bottom + 8);
    });
    ctx.lineWidth = 1.1;
    latMinor.forEach((v) => {
      const x = scales.x.getPixelForValue(v);
      tick(x, a.top, x, a.top - 4.5);
      tick(x, a.bottom, x, a.bottom + 4.5);
    });
    ctx.lineWidth = 1.4;
    pressureLevels.forEach((v) => {
      const y = scales.y.getPixelForValue(v);
      tick(a.left, y, a.left - 7, y);
    });
    heightPressures.forEach((v) => {
      const y = scales.yr.getPixelForValue(v);
      tick(a.right, y, a.right + 7, y);
    });
    // reference-vector annotation
    const bx = a.right - 18;
    ctx.fillStyle = "#fff";
    ctx.fillRect(bx, a.bottom - 8, 20, 24);
    ctx.fillStyle = "#222";
    ctx.font = `9.5px ${FONT}`;
    ctx.textAlign = "center";
    ctx.textBaseline = "middle";
    ctx.fillText(String(refVector), bx + 8.5, a.bottom - 1.5);
    ctx.strokeStyle = ARROW;
    ctx.fillStyle = ARROW;
    ctx.lineWidth = 1.3;
    drawArrow(ctx, bx + 1, a.bottom + 8, bx + 1 + refVector * PX_PER_UNIT, a.bottom + 8);
    ctx.restore();
  },
};

function Panel({ index, left, top, contours, stipple, wind, showYTitle }: any) {
  const ref = useRef<HTMLCanvasElement>(null);
  useEffect(() => {
    const canvas = ref.current!;
    const ctx = canvas.getContext("2d")!;
    const toXY = (pts: Pt[]) => pts.map(([x, y]) => ({ x, y }));
    const poly = (pts: Pt[], color: any) => ({
      markKind: "polygon",
      data: toXY(pts),
      backgroundColor: color,
      pointRadius: 0,
      showLine: false,
      clip: false,
    });
    const pattern = makeStipple(ctx);
    const arrows: any[] = [];
    Object.keys(wind).forEach((lev) => {
      wind[lev].forEach(([lat, w, u]: Vec) => arrows.push({ x: lat, y: Number(lev), w, u: u ?? 0 }));
    });
    const paint: any[] = [
      poly(domain, binColor(-2)),
      ...contours.map(([b, pts]: [number, Pt[]]) => poly(pts, binColor(b))),
      ...stipple.map((pts: Pt[]) => poly(pts, pattern)),
      { markKind: "arrows", data: arrows, pointRadius: 0, showLine: false },
      poly(terrain, "#6e6e6e"),
    ];
    const chart = new Chart(canvas, {
      type: "scatter",
      data: { datasets: paint.reverse() },
      plugins: [marksPlugin],
      options: {
        responsive: false,
        animation: false,
        events: [],
        layout: { padding: 0 },
        plugins: {
          legend: { display: false },
          tooltip: { enabled: false },
          title: {
            display: true,
            text: titles[index],
            align: "start",
            fullSize: false,
            color: "#111",
            font: { family: FONT, size: 16.2, weight: "normal", lineHeight: 1.2 },
            padding: { top: 7, bottom: 14.56 },
          },
        },
        scales: {
          x: {
            type: "linear",
            min: 0,
            max: 70,
            grid: { display: false, drawTicks: false },
            border: { display: false },
            afterBuildTicks: (s: any) => {
              s.ticks = latMajor.map((value) => ({ value }));
            },
            afterFit: (s: any) => {
              s.height = 40;
            },
            ticks: {
              padding: 20,
              autoSkip: false,
              maxRotation: 0,
              color: "#111",
              font: { family: FONT, size: 16.5 },
              callback: (v: number) => latNames[latMajor.indexOf(v)],
            },
          },
          y: {
            type: "logarithmic",
            position: "left",
            reverse: true,
            min: 150,
            max: 1000,
            grid: { display: false, drawTicks: false },
            border: { display: false },
            title: {
              display: showYTitle,
              text: "Level (hPa)",
              color: "#111",
              font: { family: FONT, size: 16.5 },
              padding: { top: 8, bottom: 0 },
            },
            afterBuildTicks: (s: any) => {
              s.ticks = pressureLevels.map((value) => ({ value }));
            },
            afterFit: (s: any) => {
              s.width = 97;
            },
            ticks: {
              padding: 18,
              autoSkip: false,
              color: "#111",
              font: { family: FONT, size: 16.5 },
              callback: (v: number) => String(v),
            },
          },
          yr: {
            type: "logarithmic",
            position: "right",
            reverse: true,
            min: 150,
            max: 1000,
            grid: { display: false, drawTicks: false },
            border: { display: false },
            afterBuildTicks: (s: any) => {
              s.ticks = heightPressures.map((value) => ({ value }));
            },
            afterFit: (s: any) => {
              s.width = 41;
            },
            ticks: {
              padding: 7,
              autoSkip: false,
              crossAlign: "center",
              color: "#111",
              font: { family: FONT, size: 16.5 },
              callback: (v: number) => heightLabels[heightPressures.indexOf(v)],
            },
          },
        },
      },
    } as any);
    return () => chart.destroy();
  }, []);
  return <canvas ref={ref} width={517} height={334} style={{ position: "absolute", left, top }} />;
}

function ColorBar() {
  const ref = useRef<HTMLCanvasElement>(null);
  useEffect(() => {
    const chart = new Chart(ref.current!, {
      type: "bar",
      data: {
        labels: ["bar"],
        datasets: binLower.map((lo, i) => ({
          data: [[lo, lo + 2]],
          backgroundColor: binColors[i],
          borderColor: "#333",
          borderWidth: 1,
          borderSkipped: false,
          barPercentage: 1,
          categoryPercentage: 1,
          grouped: false,
        })),
      },
      options: {
        indexAxis: "y",
        responsive: false,
        animation: false,
        events: [],
        layout: { padding: { left: 26, right: 30, top: 11, bottom: 0 } },
        plugins: { legend: { display: false }, tooltip: { enabled: false }, title: { display: false } },
        scales: {
          y: { display: false },
          x: {
            type: "linear",
            min: -12,
            max: 12,
            grid: { display: false, drawTicks: false },
            border: { display: false },
            afterBuildTicks: (s: any) => {
              s.ticks = colorLevels.map((value) => ({ value }));
            },
            afterFit: (s: any) => {
              s.height = 20;
            },
            ticks: {
              padding: 5,
              autoSkip: false,
              maxRotation: 0,
              color: "#111",
              font: { family: FONT, size: 16.5 },
              callback: (v: number) => String(v),
            },
          },
        },
      },
    } as any);
    return () => chart.destroy();
  }, []);
  return <canvas ref={ref} width={700} height={51} style={{ position: "absolute", left: 200, top: 685 }} />;
}

export default function App() {
  return (
    <div style={{ position: "absolute", left: 0, top: 0, width: 1060, height: 736, background: "#fff", overflow: "hidden" }}>
      <Panel index={0} left={0} top={0} contours={contoursA} stipple={stippleA} wind={windA} showYTitle />
      <Panel index={1} left={543} top={0} contours={contoursB} stipple={stippleB} wind={windB} showYTitle={false} />
      <Panel index={2} left={0} top={341} contours={contoursC} stipple={stippleC} wind={windC} showYTitle />
      <Panel index={3} left={543} top={341} contours={contoursD} stipple={stippleD} wind={windD} showYTitle={false} />
      <ColorBar />
    </div>
  );
}
